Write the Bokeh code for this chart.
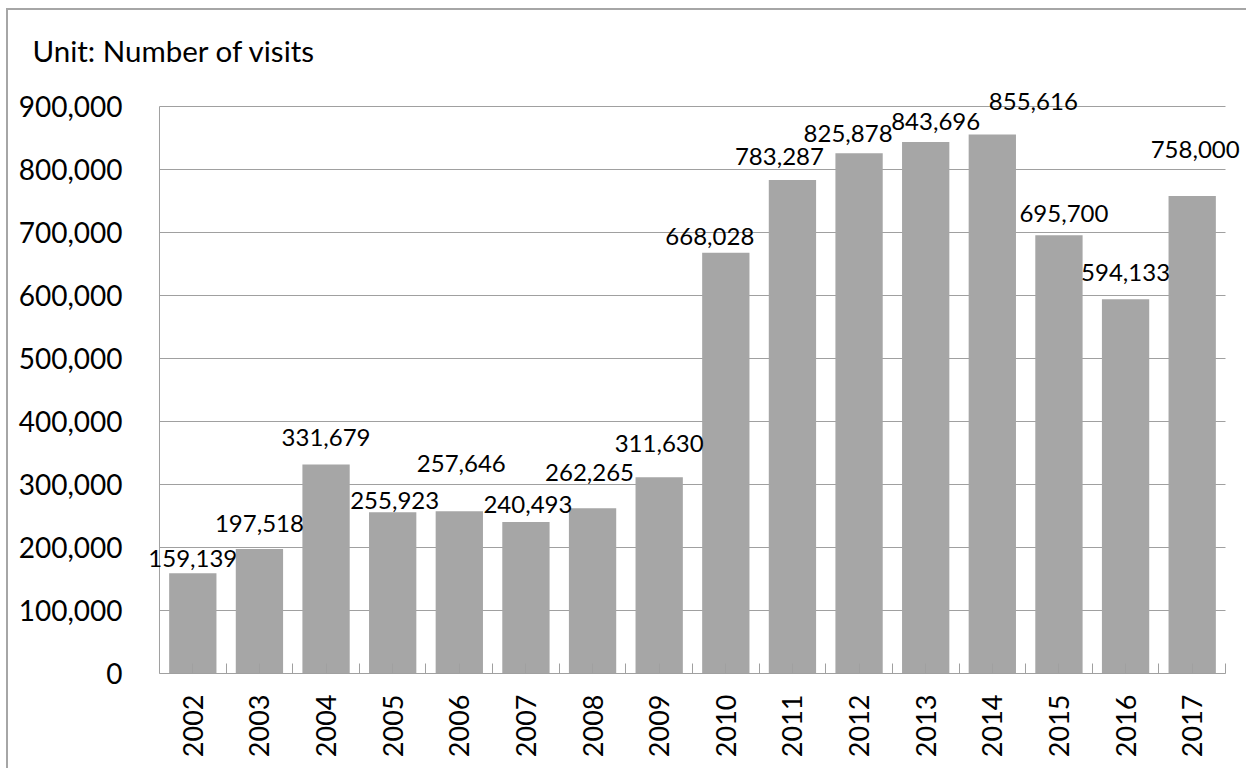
from bokeh.plotting import figure
from bokeh.models import ColumnDataSource, Range1d, FixedTicker, NumeralTickFormatter, LabelSet
from bokeh.core.properties import value
from bokeh.embed import file_html
from bokeh.resources import INLINE
import math

# ---- data ----
years = ["2002", "2003", "2004", "2005", "2006", "2007", "2008", "2009",
         "2010", "2011", "2012", "2013", "2014", "2015", "2016", "2017"]
visits = [159139, 197518, 331679, 255923, 257646, 240493, 262265, 311630,
          668028, 783287, 825878, 843696, 855616, 695700, 594133, 758000]
y_ticks = [0, 100000, 200000, 300000, 400000, 500000, 600000, 700000, 800000, 900000]
title_text = "Unit: Number of visits"

# ---- label placement (styles, pixels) ----
label_dx = [0, 0, 0, 2, 2, 2, -3, 0, -16, -13, -11, 10, 41, 5, 0, 3]
label_up = [15, 26, 27, 12, 48, 17, 36, 34, 16, 24, 20, 20.5, 33, 22, 27, 46]

FONT = "Lato"
GRAY = "#a6a6a6"
GRID = "#a0a0a0"

n = len(years)
xs = list(range(1, n + 1))
x_lo, x_hi = 0.5, n + 0.5
y_hi = max(y_ticks)

src = ColumnDataSource(dict(
    x=xs, top=visits,
    label=[f"{v:,}" for v in visits],
    dx=label_dx,
    dy=label_up,
))
grid_src = ColumnDataSource(dict(y=y_ticks, x0=[x_lo] * len(y_ticks), x1=[x_hi] * len(y_ticks)))

# frame is a little larger than the plotted area so labels are not clipped
p = figure(width=1240, height=760, output_backend="svg", toolbar_location=None,
           x_range=Range1d(x_lo - 0.225, x_hi + 0.3),
           y_range=Range1d(0, y_hi * 587 / 567),
           min_border_left=136, min_border_top=76, min_border_right=3, min_border_bottom=97)

# gridlines
p.segment(x0="x0", x1="x1", y0="y", y1="y", source=grid_src, line_color=GRID, line_width=1)
# y axis line
p.segment(x0=[x_lo], x1=[x_lo], y0=[0], y1=[y_hi], line_color=GRID, line_width=1)

p.vbar(x="x", top="top", width=0.71, source=src, fill_color=GRAY, line_color=None)
labels = LabelSet(x="x", y="top", text="label", source=src, x_offset="dx", y_offset="dy",
                  text_align="center", text_baseline="middle",
                  text_font=value(FONT), text_font_size="24px", text_color="#000000")
p.add_layout(labels)

p.outline_line_color = None
p.background_fill_color = "white"
p.border_fill_color = "white"
p.xgrid.grid_line_color = None
p.ygrid.grid_line_color = None

# y axis (labels only)
p.yaxis.ticker = FixedTicker(ticks=y_ticks)
p.yaxis.formatter = NumeralTickFormatter(format="0,0")
p.yaxis.major_label_text_font = FONT
p.yaxis.major_label_text_font_size = "28px"
p.yaxis.major_label_text_color = "#000000"
p.yaxis.major_label_standoff = 16
p.yaxis.axis_line_color = None
p.yaxis.major_tick_line_color = None
p.yaxis.minor_tick_line_color = None

# x axis
boundaries = [x - 0.5 for x in xs] + [xs[-1] + 0.5]
p.xaxis.bounds = (x_lo, x_hi)
p.xaxis.ticker = FixedTicker(ticks=xs, minor_ticks=boundaries)
p.xaxis.major_label_overrides = {x: y for x, y in zip(xs, years)}
p.xaxis.major_label_orientation = math.pi / 2
p.xaxis.major_label_text_font = FONT
p.xaxis.major_label_text_font_size = "27px"
p.xaxis.major_label_text_color = "#000000"
p.xaxis.major_label_standoff = 21
p.xaxis.axis_line_color = GRID
p.xaxis.major_tick_line_color = GRID
p.xaxis.major_tick_in = 10
p.xaxis.major_tick_out = 0
p.xaxis.minor_tick_line_color = GRID
p.xaxis.minor_tick_in = 10
p.xaxis.minor_tick_out = 0

# title
p.title.text = title_text
p.title.align = "left"
p.title.offset = -112
p.title.standoff = 37
p.title.text_font = FONT
p.title.text_font_size = "29.5px"
p.title.text_font_style = "normal"
p.title.text_color = "#000000"

p.styles = {"margin-left": "6px", "margin-top": "8px",
            "border-left": "2px solid #a6a6a6", "border-top": "2px solid #a6a6a6"}

open("out.html", "w").write(file_html(p, INLINE))
